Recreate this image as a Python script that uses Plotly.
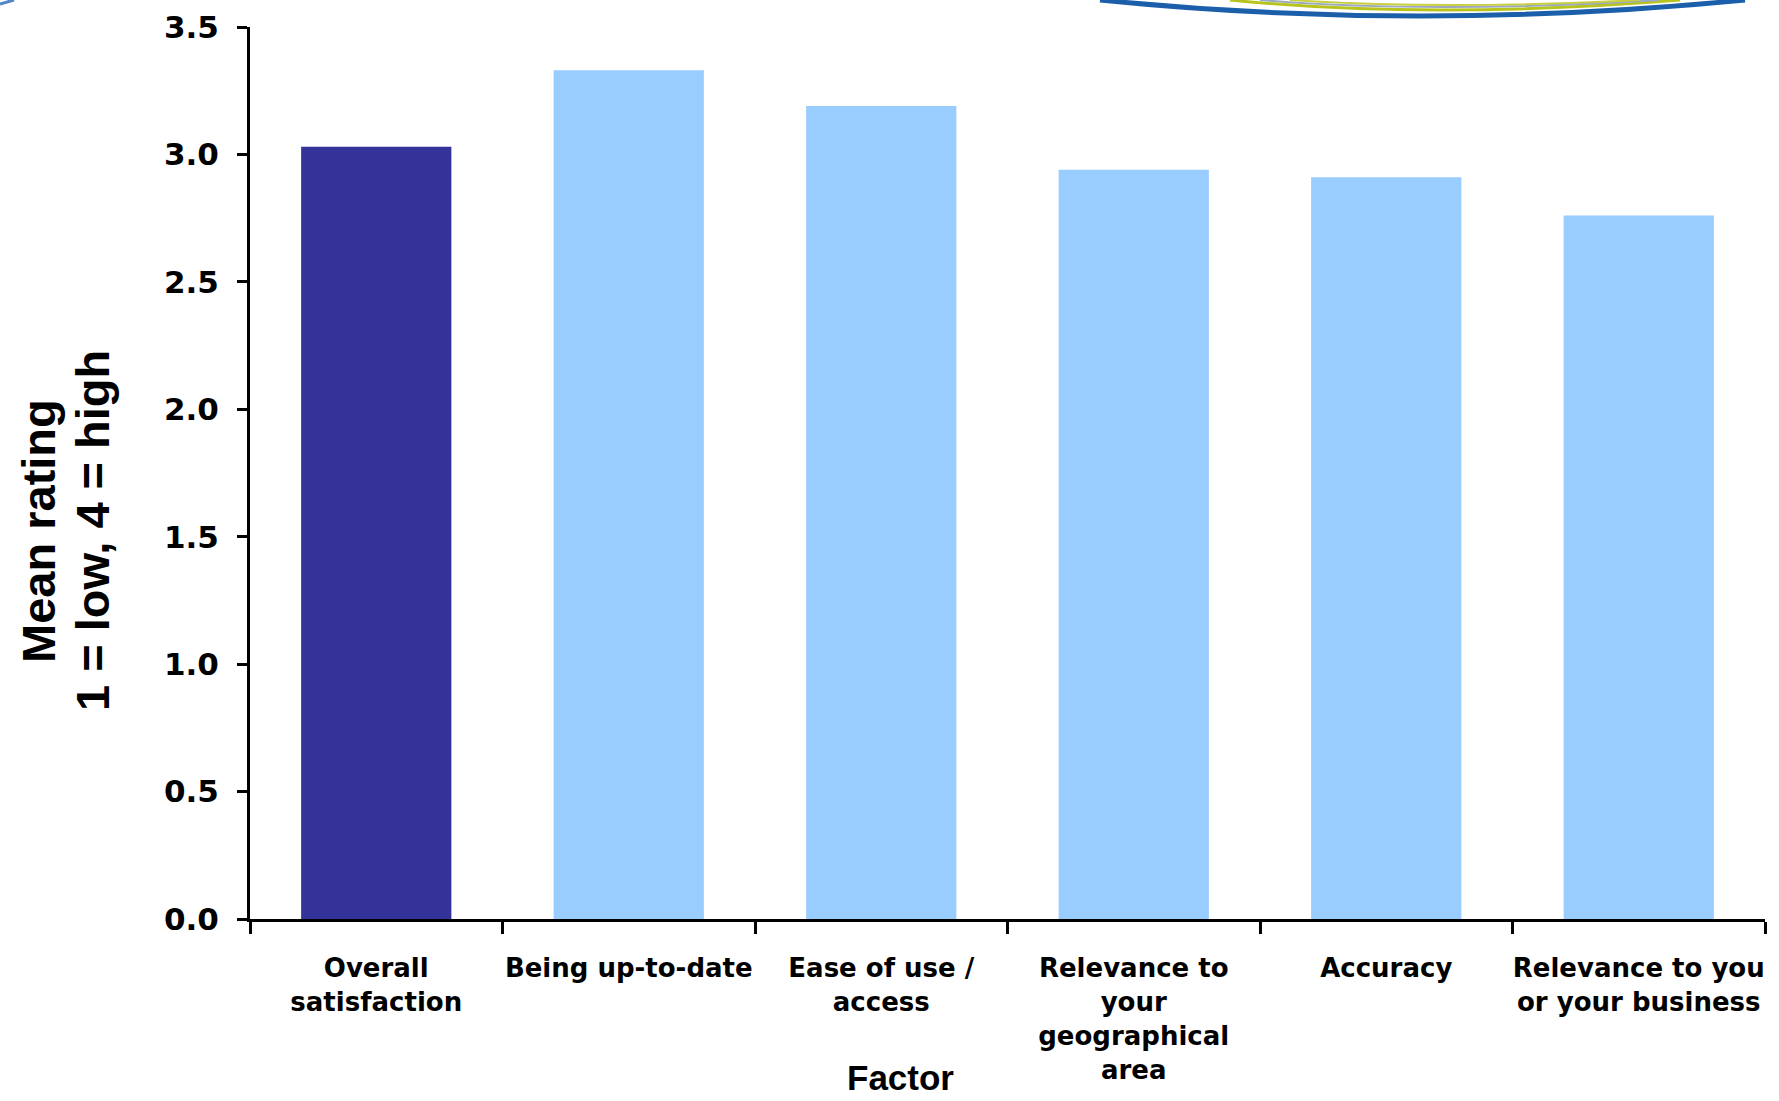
import plotly.graph_objects as go

# Survey results: mean satisfaction rating per factor
factors = [
    "Overall<br>satisfaction",
    "Being up-to-date",
    "Ease of use /<br>access",
    "Relevance to<br>your<br>geographical<br>area",
    "Accuracy",
    "Relevance to you<br>or your business",
]
mean_rating = [3.03, 3.33, 3.19, 2.94, 2.91, 2.76]
bar_colors = ["#333399", "#99CCFF", "#99CCFF", "#99CCFF", "#99CCFF", "#99CCFF"]
y_ticks = [0.0, 0.5, 1.0, 1.5, 2.0, 2.5, 3.0, 3.5]

W, H = 1779, 1101
L, R, T, B = 250, 14, 27, 182
PW, PH = W - L - R, H - T - B


def px(x):
    """Horizontal pixel -> paper fraction."""
    return (x - L) / PW


def py(y):
    """Vertical pixel (from top) -> paper fraction."""
    return (H - B - y) / PH


def curve(x0, xc, x1, ydip):
    """Quadratic swoosh from the top edge dipping down to ydip pixels."""
    return (f"M {px(x0)},{py(0)} Q {px(xc)},{py(2 * ydip)} {px(x1)},{py(0)}")


fig = go.Figure(
    go.Bar(
        x=factors,
        y=mean_rating,
        marker=dict(color=bar_colors, line=dict(width=0)),
        hoverinfo="x+y",
    )
)

fig.update_layout(
    width=W,
    height=H,
    margin=dict(l=L, r=R, t=T, b=B, autoexpand=False),
    paper_bgcolor="white",
    plot_bgcolor="white",
    bargap=0.405,
    showlegend=False,
    font=dict(family="DejaVu Sans", color="black"),
)

fig.update_yaxes(
    range=[0, 3.5],
    tickvals=y_ticks,
    tickformat=".1f",
    ticks="outside",
    ticklen=10,
    tickwidth=3,
    tickcolor="black",
    showline=True,
    linewidth=3,
    linecolor="black",
    showgrid=False,
    zeroline=False,
    automargin=False,
    tickfont=dict(family="DejaVu Sans", size=31, color="black", weight="bold"),
    ticklabelstandoff=12,
)

fig.update_xaxes(
    type="category",
    tickson="boundaries",
    ticks="outside",
    ticklen=12,
    tickwidth=3,
    tickcolor="black",
    showline=True,
    linewidth=3,
    linecolor="black",
    showgrid=False,
    tickangle=0,
    automargin=False,
    tickfont=dict(family="DejaVu Sans", size=26, color="black", weight="bold"),
    ticklabelstandoff=24,
)

# Axis titles
fig.add_annotation(
    text="<b>Mean rating</b>",
    xref="paper", yref="paper",
    x=px(38), y=py(531),
    xanchor="center", yanchor="middle",
    textangle=-90,
    showarrow=False,
    font=dict(family="Liberation Sans", size=47, color="black"),
)
fig.add_annotation(
    text="<b>1 = low, 4 = high</b>",
    xref="paper", yref="paper",
    x=px(92), y=py(531),
    xanchor="center", yanchor="middle",
    textangle=-90,
    showarrow=False,
    font=dict(family="Liberation Sans", size=47, color="black"),
)
fig.add_annotation(
    text="<b>Factor</b>",
    xref="paper", yref="paper",
    x=px(900), y=py(1077),
    xanchor="center", yanchor="middle",
    showarrow=False,
    borderpad=0,
    font=dict(family="Liberation Sans", size=35, color="black"),
)

# Decorative logo swooshes along the top edge
fig.add_shape(type="path", xref="paper", yref="paper",
              path=curve(1100, 1418, 1745, 16),
              line=dict(color="#1B5FAA", width=5))
fig.add_shape(type="path", xref="paper", yref="paper",
              path=curve(1230, 1430, 1680, 10),
              line=dict(color="#B8C41E", width=3))
fig.add_shape(type="path", xref="paper", yref="paper",
              path=curve(1260, 1430, 1660, 7),
              line=dict(color="#9AA8C0", width=2))
fig.add_shape(type="path", xref="paper", yref="paper",
              path=curve(1290, 1440, 1640, 5),
              line=dict(color="#C8D040", width=2))
fig.add_shape(type="path", xref="paper", yref="paper",
              path=f"M {px(0)},{py(4)} L {px(14)},{py(0)}",
              line=dict(color="#4F86C6", width=3))

fig.write_html("out.html")
